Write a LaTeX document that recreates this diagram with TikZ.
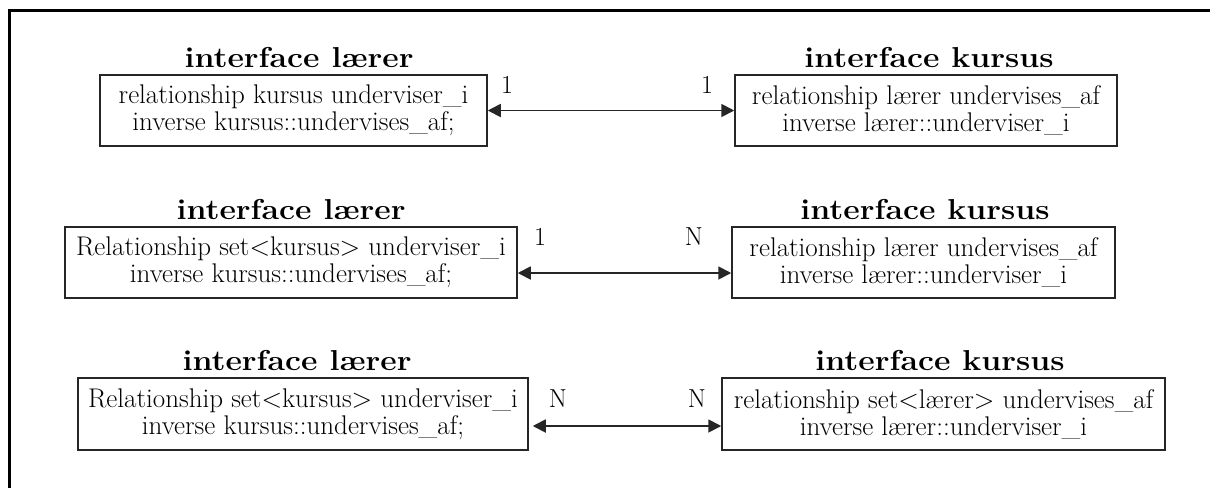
\documentclass[tikz,border=0pt]{standalone}
\usepackage{graphicx}
\usetikzlibrary{arrows.meta}

% Heading of an ODL interface: wide bold face, slightly flattened
\newcommand\ifacetitle[1]{\scalebox{1}[0.9]{\fontsize{32}{32}\selectfont\bfseries #1}}

\tikzset{
  classbox/.style={draw=black!85, line width=1.5pt, align=center, inner sep=0pt,
                   minimum height=71pt, font=\fontsize{27}{27}\selectfont},
  ifhead/.style={anchor=base, inner sep=0pt},
  mult/.style={inner sep=0pt, font=\fontsize{26}{26}\selectfont},
  link/.style={line width=1.8pt, black!85,
               {Triangle[length=13pt,width=13pt]}-{Triangle[length=13pt,width=13pt]}}
}

\begin{document}
\begin{tikzpicture}[x=1pt,y=-1pt]
  \useasboundingbox (0,0) rectangle (1210,488);

  % frame
  \draw[line width=3pt] (9,488) -- (9,10) -- (1210,10);

  % ---- 1 : 1 ----
  \node[classbox, minimum width=387pt] (l1) at (293.5,110.5)
    {relationship kursus underviser\_i\\inverse kursus::undervises\_af;};
  \node[classbox, minimum width=382pt] (r1) at (926,110.5)
    {relationship lærer undervises\_af\\inverse lærer::underviser\_i};
  \node[ifhead] (tl1) at (299,67) {\ifacetitle{interface lærer}};
  \node[ifhead] (tr1) at (929,67) {\ifacetitle{interface kursus}};
  \draw[link] (l1.east) -- (r1.west);
  \node[mult] (m1l) at (507,85) {1};
  \node[mult] (m1r) at (707,85) {1};

  % ---- 1 : N ----
  \node[classbox, minimum width=452pt] (l2) at (291,262.5)
    {Relationship set<kursus> underviser\_i\\inverse kursus::undervises\_af;};
  \node[classbox, minimum width=383pt] (r2) at (923.5,262.5)
    {relationship lærer undervises\_af\\inverse lærer::underviser\_i};
  \node[ifhead] (tl2) at (291,219) {\ifacetitle{interface lærer}};
  \node[ifhead] (tr2) at (925,219) {\ifacetitle{interface kursus}};
  \draw[link] ([yshift=-10.5pt]l2.east) -- ([yshift=-10.5pt]r2.west);
  \node[mult] (m2l) at (540,237) {1};
  \node[mult] (m2r) at (694,237) {N};

  % ---- N : N ----
  \node[classbox, minimum width=450pt, minimum height=72pt] (l3) at (303,414)
    {Relationship set<kursus> underviser\_i\\inverse kursus::undervises\_af;};
  \node[classbox, minimum width=443pt, minimum height=72pt] (r3) at (943.5,414)
    {relationship set<lærer> undervises\_af\\inverse lærer::underviser\_i};
  \node[ifhead] (tl3) at (297,370) {\ifacetitle{interface lærer}};
  \node[ifhead] (tr3) at (940,370) {\ifacetitle{interface kursus}};
  \draw[link, shorten <=4pt] ([yshift=-12pt]l3.east) -- ([yshift=-12pt]r3.west);
  \node[mult] (m3l) at (558,399) {N};
  \node[mult] (m3r) at (697,399) {N};
\end{tikzpicture}
\end{document}
